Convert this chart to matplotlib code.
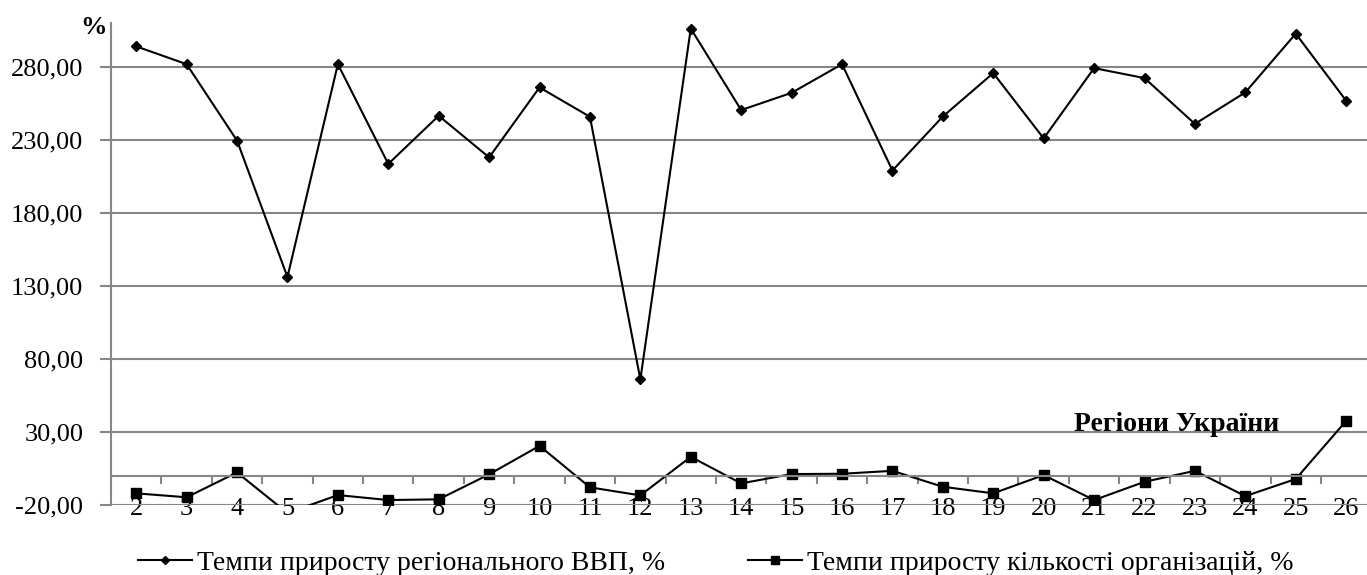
import numpy as np
import matplotlib
matplotlib.use("Agg")
from matplotlib import pyplot as plt
from matplotlib.ticker import FixedLocator, FuncFormatter

# regions of Ukraine, numbered 2..26
regions = list(range(2, 27))
gdp_growth = [294.0, 281.8, 229.5, 136.1, 281.8, 213.5, 246.5, 218.0, 265.9, 245.8,
              66.0, 306.2, 250.4, 262.2, 281.8, 209.0, 246.0, 275.7, 231.0, 279.1,
              272.3, 240.9, 262.5, 302.7, 256.8]
org_growth = [-12.0, -14.7, 2.3, -25.5, -13.2, -16.6, -16.1, 1.0, 20.5, -7.9,
              -13.4, 13.0, -5.2, 1.2, 1.4, 3.4, -7.5, -12.0, 0.5, -16.6,
              -4.1, 3.4, -13.9, -2.2, 37.6]
y_ticks = [-20, 30, 80, 130, 180, 230, 280]
gdp_label = "Темпи приросту регіонального ВВП, %"
org_label = "Темпи приросту кількості організацій, %"

plt.rcParams['font.family'] = ['Liberation Serif', 'DejaVu Serif']
grey = "#868686"

fig = plt.figure(figsize=(13.67, 5.75), dpi=100)
ax = fig.add_axes([0.0812, 0.1217, 0.922, 0.8383])

x = np.array(regions)
ax.plot(x, gdp_growth, color="black", lw=1.5, marker="D", ms=5, label=gdp_label)
ax.plot(x, org_growth, color="black", lw=1.5, marker="s", ms=7, label=org_label)

ax.set_xlim(x[0] - 0.5, x[-1] + 0.5)
ax.set_ylim(-20, 310)

# horizontal grid
ax.yaxis.set_major_locator(FixedLocator(y_ticks))
ax.yaxis.set_major_formatter(FuncFormatter(lambda v, p: f"{v:.2f}".replace(".", ",")))
ax.grid(axis="y", color=grey, lw=1.5)
ax.set_axisbelow(True)
ax.tick_params(axis="y", length=8, width=1.5, color=grey, pad=12, labelsize=19)

# category axis crosses at zero, labels sit at the bottom
for s in ["top", "right"]:
    ax.spines[s].set_visible(False)
ax.spines["left"].set_color(grey)
ax.spines["left"].set_linewidth(1.5)
ax.spines["bottom"].set_position(("data", 0))
ax.spines["bottom"].set_color(grey)
ax.spines["bottom"].set_linewidth(1.5)
ax.set_xticks(x)
ax.set_xticks(np.append(x - 0.5, x[-1] + 0.5), minor=True)
ax.tick_params(axis="x", which="major", length=0, pad=16, labelsize=19)
ax.tick_params(axis="x", which="minor", length=6, width=1.5, color=grey)

ax.text(-0.003, 0.99, "%", transform=ax.transAxes, ha="right", va="center",
        fontsize=19, fontweight="bold")
ax.text(22.63, 35, "Регіони України", ha="center", va="center",
        fontsize=20, fontweight="bold", zorder=5)

fig.legend(loc="center left", bbox_to_anchor=(0.101, 0.021), ncol=2, frameon=False,
           fontsize=20, handlelength=1.94, handletextpad=0.18, columnspacing=3.0,
           borderpad=0, borderaxespad=0, markerscale=0.75)

plt.savefig("out.png", dpi=100)
